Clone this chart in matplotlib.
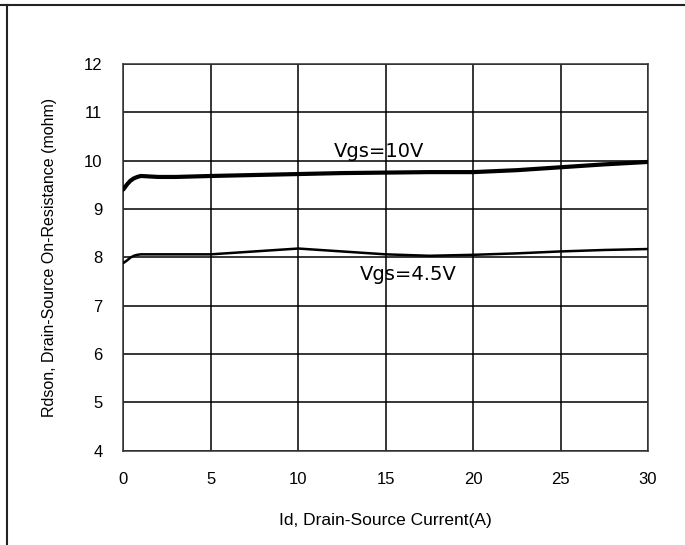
import matplotlib
matplotlib.use("Agg")
import matplotlib.pyplot as plt
from matplotlib.lines import Line2D

# Rdson vs Id
id_10v = [0, 0.2, 0.4, 0.6, 0.8, 1.0, 1.5, 2, 3, 5, 7.5, 10, 12.5, 15, 17.5, 20, 22.5, 25, 27.5, 30]
rds_10v = [9.40, 9.50, 9.58, 9.63, 9.66, 9.68, 9.67, 9.66, 9.66, 9.68, 9.70, 9.72, 9.74, 9.75, 9.76, 9.76, 9.80, 9.86, 9.92, 9.97]

id_45v = [0, 0.2, 0.4, 0.6, 0.8, 1.0, 1.5, 2, 3, 5, 7.5, 10, 12.5, 15, 17.5, 20, 22.5, 25, 27.5, 30]
rds_45v = [7.88, 7.93, 7.99, 8.03, 8.05, 8.06, 8.06, 8.06, 8.06, 8.06, 8.12, 8.18, 8.12, 8.06, 8.03, 8.05, 8.08, 8.12, 8.15, 8.17]

x_ticks = [0, 5, 10, 15, 20, 25, 30]
y_ticks = [4, 5, 6, 7, 8, 9, 10, 11, 12]

fig = plt.figure(figsize=(6.85, 5.45), dpi=100)
ax = fig.add_axes([0.180, 0.173, 0.766, 0.710])

ax.plot(id_10v, rds_10v, color="black", lw=3.0, solid_capstyle="round", zorder=3)
ax.plot(id_45v, rds_45v, color="black", lw=1.8, solid_capstyle="round", zorder=3)

ax.set_xlim(0, 30)
ax.set_ylim(4, 12)
ax.set_xticks(x_ticks)
ax.set_yticks(y_ticks)
ax.grid(True, color="black", lw=1.1)
ax.set_axisbelow(True)
for s in ax.spines.values():
    s.set_color("#333333")
    s.set_linewidth(1.1)
ax.tick_params(length=0, pad=15, labelsize=12, colors="black")
for lbl in ax.get_xticklabels() + ax.get_yticklabels():
    lbl.set_family("Liberation Sans")

ax.set_xlabel("Id, Drain-Source Current(A)", family="Liberation Sans", fontsize=12.5, labelpad=19)
ax.set_ylabel("Rdson, Drain-Source On-Resistance (mohm)", family="Liberation Sans", fontsize=11.5, labelpad=19)

ax.text(14.6, 10.18, "Vgs=10V", family="DejaVu Sans", fontsize=14, ha="center", va="center", zorder=1)
ax.text(16.3, 7.65, "Vgs=4.5V", family="DejaVu Sans", fontsize=14, ha="center", va="center", zorder=1)

# moldura da figura
fig.add_artist(Line2D([0, 1], [1 - 5 / 545, 1 - 5 / 545], transform=fig.transFigure, color="#222222", lw=1.5))
fig.add_artist(Line2D([7 / 685, 7 / 685], [0, 1 - 5 / 545], transform=fig.transFigure, color="#222222", lw=1.5))

fig.savefig("out.png", dpi=100)
